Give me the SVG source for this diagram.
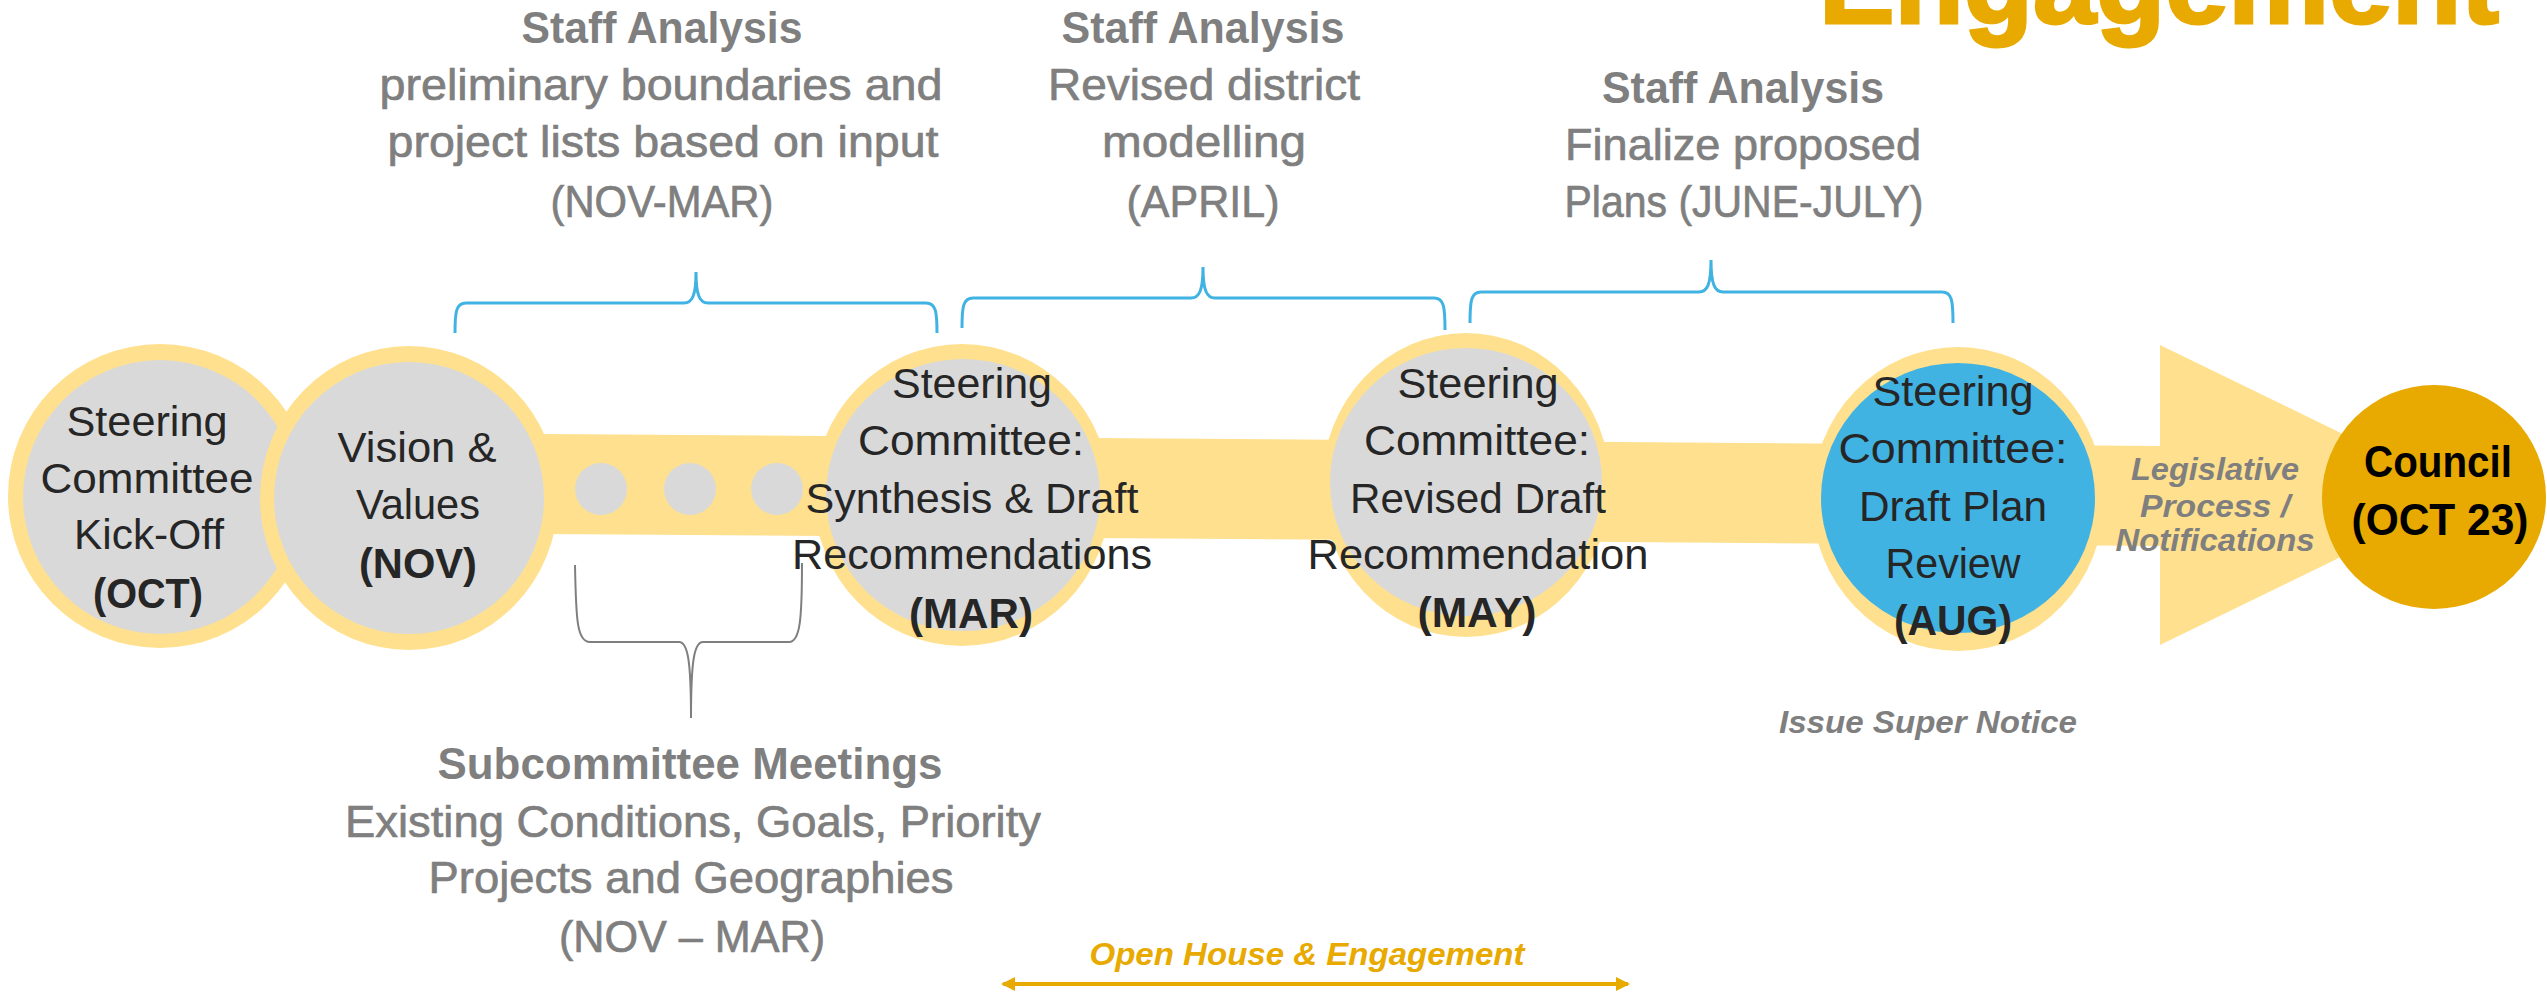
<svg xmlns="http://www.w3.org/2000/svg" width="2547" height="995" viewBox="0 0 2547 995">
  <defs>
    <style>
      .ring { fill: #FEE08E; }
      .core { fill: #D9D9D9; }
      .blue { fill: #41B3E3; }
      .gold { fill: #E8A900; }
      .brace { fill: none; stroke: #41B3E3; stroke-width: 3; }
      .brace-gray { fill: none; stroke: #7F7F7F; stroke-width: 2; }
      .lbl { font-family: 'Liberation Sans', Arial, sans-serif; font-size: 42px; fill: #262626; text-anchor: middle; }
      .lbl-b { font-family: 'Liberation Sans', Arial, sans-serif; font-size: 42px; font-weight: bold; fill: #262626; text-anchor: middle; }
      .note { font-family: 'Liberation Sans', Arial, sans-serif; font-size: 45px; fill: #7F7F7F; stroke: #7F7F7F; stroke-width: 0.7; text-anchor: middle; }
      .note-h { font-family: 'Liberation Sans', Arial, sans-serif; font-size: 44px; font-weight: bold; fill: #7F7F7F; text-anchor: middle; }
      .ital { font-family: 'Liberation Sans', Arial, sans-serif; font-size: 32px; font-weight: bold; font-style: italic; fill: #7F7F7F; text-anchor: middle; }
      .council { font-family: 'Liberation Sans', Arial, sans-serif; font-size: 45px; font-weight: bold; fill: #000000; text-anchor: middle; }
    </style>
    <marker id="headGold" viewBox="0 0 14 14" refX="12" refY="7" markerWidth="14" markerHeight="14" markerUnits="userSpaceOnUse" orient="auto-start-reverse">
      <path d="M0,0 L14,7 L0,14 Z" fill="#E8A900"/>
    </marker>
  </defs>

  <!-- page title, running off the top edge -->
  <text x="1819" y="23" font-family="'Liberation Sans', Arial, sans-serif" font-size="113" font-weight="bold" fill="#E8A900" stroke="#E8A900" stroke-width="3" textLength="680" lengthAdjust="spacingAndGlyphs">Engagement</text>

  <!-- timeline band with arrowhead -->
  <g id="timeline-band">
    <polygon class="ring" points="420,433 2160,446 2160,345 2468,495 2160,645 2160,546 420,533"/>
  </g>

  <!-- connectors: brackets and range arrow -->
  <g id="connectors">
    <path class="brace" d="M455,333 C455,312 456,303 466,303 L684,303 C692,303 696,296 696,272 C696,296 700,303 708,303 L926,303 C936,303 937,312 937,333"/>
    <path class="brace" d="M962,328 C962,307 963,298 973,298 L1191,298 C1199,298 1203,291 1203,267 C1203,291 1207,298 1215,298 L1434,298 C1444,298 1445,307 1445,330"/>
    <path class="brace" d="M1470,323 C1470,301 1471,292 1481,292 L1699,292 C1707,292 1711,285 1711,260 C1711,285 1715,292 1723,292 L1942,292 C1952,292 1953,301 1953,323"/>
    <path class="brace-gray" d="M575,565 C576,620 577,642 590,642 L679,642 C688,642 691,662 691,718 C691,662 694,642 703,642 L789,642 C800,642 802,620 802,563"/>
    <line x1="1003" y1="984" x2="1628" y2="984" stroke="#E8A900" stroke-width="4" marker-start="url(#headGold)" marker-end="url(#headGold)"/>
  </g>

  <!-- Steering Committee Kick-Off -->
  <g id="node-oct">
    <circle class="ring" cx="160" cy="496" r="152"/>
    <circle class="core" cx="160" cy="497" r="137"/>
    <text class="lbl" x="147" y="436" textLength="161" lengthAdjust="spacingAndGlyphs">Steering</text>
    <text class="lbl" x="147" y="493" textLength="213" lengthAdjust="spacingAndGlyphs">Committee</text>
    <text class="lbl" x="149" y="549" textLength="150" lengthAdjust="spacingAndGlyphs">Kick-Off</text>
    <text class="lbl-b" x="148" y="608" textLength="110" lengthAdjust="spacingAndGlyphs">(OCT)</text>
  </g>

  <!-- Vision & Values -->
  <g id="node-nov">
    <ellipse class="ring" cx="409" cy="498" rx="149" ry="152"/>
    <ellipse class="core" cx="409" cy="498" rx="135" ry="136"/>
    <text class="lbl" x="417" y="462" textLength="159" lengthAdjust="spacingAndGlyphs">Vision &amp;</text>
    <text class="lbl" x="418" y="519" textLength="124" lengthAdjust="spacingAndGlyphs">Values</text>
    <text class="lbl-b" x="418" y="578" textLength="118" lengthAdjust="spacingAndGlyphs">(NOV)</text>
  </g>

  <!-- subcommittee meeting markers -->
  <g id="node-dots">
    <circle class="core" cx="601" cy="489" r="26"/>
    <circle class="core" cx="690" cy="489" r="26"/>
    <circle class="core" cx="777" cy="489" r="26"/>
  </g>

  <!-- Synthesis & Draft Recommendations -->
  <g id="node-mar">
    <ellipse class="ring" cx="962" cy="495" rx="148" ry="151"/>
    <ellipse class="core" cx="963" cy="495" rx="137" ry="136"/>
    <text class="lbl" x="972" y="398" textLength="160" lengthAdjust="spacingAndGlyphs">Steering</text>
    <text class="lbl" x="971" y="455" textLength="226" lengthAdjust="spacingAndGlyphs">Committee:</text>
    <text class="lbl" x="972" y="513" textLength="333" lengthAdjust="spacingAndGlyphs">Synthesis &amp; Draft</text>
    <text class="lbl" x="972" y="569" textLength="360" lengthAdjust="spacingAndGlyphs">Recommendations</text>
    <text class="lbl-b" x="971" y="628" textLength="124" lengthAdjust="spacingAndGlyphs">(MAR)</text>
  </g>

  <!-- Revised Draft Recommendation -->
  <g id="node-may">
    <ellipse class="ring" cx="1466" cy="485" rx="144" ry="152"/>
    <ellipse class="core" cx="1466" cy="482" rx="136" ry="134"/>
    <text class="lbl" x="1478" y="398" textLength="161" lengthAdjust="spacingAndGlyphs">Steering</text>
    <text class="lbl" x="1477" y="455" textLength="226" lengthAdjust="spacingAndGlyphs">Committee:</text>
    <text class="lbl" x="1478" y="513" textLength="256" lengthAdjust="spacingAndGlyphs">Revised Draft</text>
    <text class="lbl" x="1478" y="569" textLength="341" lengthAdjust="spacingAndGlyphs">Recommendation</text>
    <text class="lbl-b" x="1477" y="627" textLength="119" lengthAdjust="spacingAndGlyphs">(MAY)</text>
  </g>

  <!-- Draft Plan Review -->
  <g id="node-aug">
    <ellipse class="ring" cx="1958" cy="499" rx="146" ry="152"/>
    <ellipse class="blue" cx="1958" cy="498" rx="137" ry="135"/>
    <text class="lbl" x="1953" y="406" textLength="161" lengthAdjust="spacingAndGlyphs">Steering</text>
    <text class="lbl" x="1953" y="463" textLength="229" lengthAdjust="spacingAndGlyphs">Committee:</text>
    <text class="lbl" x="1953" y="521" textLength="188" lengthAdjust="spacingAndGlyphs">Draft Plan</text>
    <text class="lbl" x="1953" y="578" textLength="135" lengthAdjust="spacingAndGlyphs">Review</text>
    <text class="lbl-b" x="1953" y="635" textLength="118" lengthAdjust="spacingAndGlyphs">(AUG)</text>
  </g>

  <!-- Council -->
  <g id="node-council">
    <circle class="gold" cx="2434" cy="497" r="112"/>
    <text class="council" x="2438" y="477" textLength="148" lengthAdjust="spacingAndGlyphs">Council</text>
    <text class="council" x="2440" y="535" textLength="177" lengthAdjust="spacingAndGlyphs">(OCT 23)</text>
  </g>

  <!-- legislative step label -->
  <g id="label-legislative">
    <text class="ital" x="2215" y="480" textLength="168" lengthAdjust="spacingAndGlyphs">Legislative</text>
    <text class="ital" x="2215" y="517" textLength="150" lengthAdjust="spacingAndGlyphs">Process /</text>
    <text class="ital" x="2215" y="551" textLength="199" lengthAdjust="spacingAndGlyphs">Notifications</text>
  </g>

  <g id="label-notice">
    <text class="ital" x="1928" y="733" textLength="298" lengthAdjust="spacingAndGlyphs">Issue Super Notice</text>
  </g>

  <!-- staff analysis notes -->
  <g id="note-nov-mar">
    <text class="note-h" x="662" y="43" textLength="281" lengthAdjust="spacingAndGlyphs">Staff Analysis</text>
    <text class="note" x="661" y="100" textLength="563" lengthAdjust="spacingAndGlyphs">preliminary boundaries and</text>
    <text class="note" x="663" y="157" textLength="551" lengthAdjust="spacingAndGlyphs">project lists based on input</text>
    <text class="note" x="662" y="217" textLength="223" lengthAdjust="spacingAndGlyphs">(NOV-MAR)</text>
  </g>

  <g id="note-april">
    <text class="note-h" x="1203" y="43" textLength="283" lengthAdjust="spacingAndGlyphs">Staff Analysis</text>
    <text class="note" x="1204" y="100" textLength="312" lengthAdjust="spacingAndGlyphs">Revised district</text>
    <text class="note" x="1204" y="157" textLength="204" lengthAdjust="spacingAndGlyphs">modelling</text>
    <text class="note" x="1203" y="217" textLength="153" lengthAdjust="spacingAndGlyphs">(APRIL)</text>
  </g>

  <g id="note-june-july">
    <text class="note-h" x="1743" y="103" textLength="282" lengthAdjust="spacingAndGlyphs">Staff Analysis</text>
    <text class="note" x="1743" y="160" textLength="356" lengthAdjust="spacingAndGlyphs">Finalize proposed</text>
    <text class="note" x="1744" y="217" textLength="359" lengthAdjust="spacingAndGlyphs">Plans (JUNE-JULY)</text>
  </g>

  <g id="note-subcommittee">
    <text class="note-h" x="690" y="779" textLength="505" lengthAdjust="spacingAndGlyphs">Subcommittee Meetings</text>
    <text class="note" x="693" y="837" textLength="696" lengthAdjust="spacingAndGlyphs">Existing Conditions, Goals, Priority</text>
    <text class="note" x="691" y="893" textLength="525" lengthAdjust="spacingAndGlyphs">Projects and Geographies</text>
    <text class="note" x="692" y="952" textLength="266" lengthAdjust="spacingAndGlyphs">(NOV – MAR)</text>
  </g>

  <g id="label-open-house">
    <text class="ital" x="1307" y="965" style="fill:#E8A900" textLength="435" lengthAdjust="spacingAndGlyphs">Open House &amp; Engagement</text>
  </g>
</svg>
